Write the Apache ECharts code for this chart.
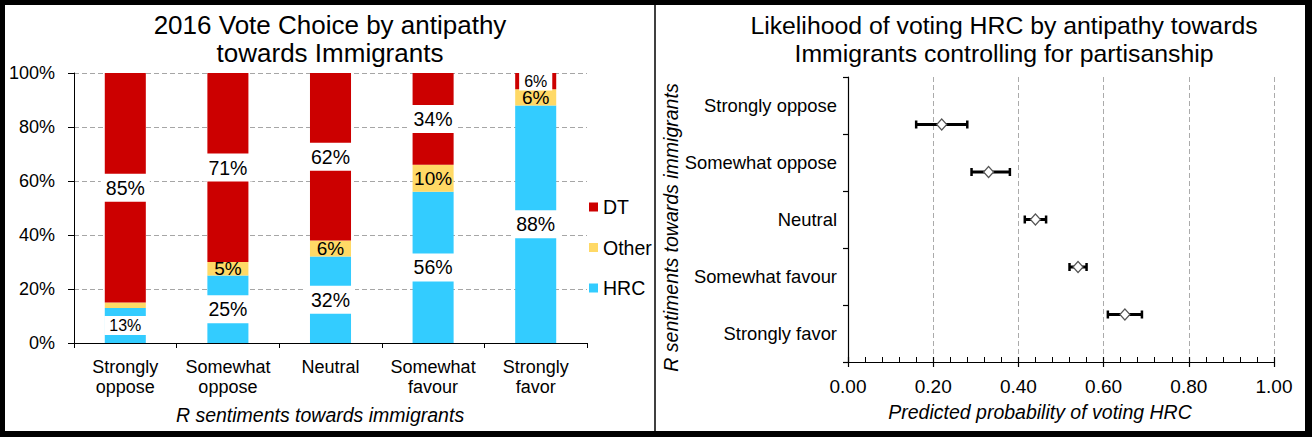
<!DOCTYPE html>
<html><head><meta charset="utf-8">
<script src="https://cdn.jsdelivr.net/npm/echarts@6/dist/echarts.min.js"></script>
<style>
html,body{margin:0;padding:0;background:#fff;overflow:hidden}
#wrap{position:relative;width:1312px;height:437px}
#chart{position:absolute;left:0;top:0;width:1312px;height:437px}
#frame{position:absolute;left:0;top:0;width:1312px;height:437px;box-sizing:border-box;border:5px solid #000;border-right-width:7px;border-bottom-width:6px;pointer-events:none}
#divider{position:absolute;left:654px;top:5px;width:2px;height:426px;background:#404040;pointer-events:none}
</style></head>
<body><div id="wrap"><div id="chart"></div><div id="frame"></div><div id="divider"></div></div>
<script>
// ---- data ----
const categories = ['Strongly oppose', 'Somewhat oppose', 'Neutral', 'Somewhat favour', 'Strongly favor'];
const hrcShare   = [13, 25, 32, 56, 88];
const otherShare = [2, 5, 6, 10, 6];
const dtShare    = [85, 71, 62, 34, 6];
const shareTicks = [0, 20, 40, 60, 80, 100];

const probEstimate = [0.22, 0.33, 0.44, 0.54, 0.65];
const probLow      = [0.16, 0.29, 0.415, 0.52, 0.61];
const probHigh     = [0.28, 0.38, 0.465, 0.56, 0.69];
const probTicks    = [0, 0.2, 0.4, 0.6, 0.8, 1.0];

// ---- styles ----
const FONT = '"Liberation Sans", Arial, Helvetica, sans-serif';
const C_DT = '#CC0000', C_OTHER = '#FFD966', C_HRC = '#33CCFF';

function boxedLabel(v) {
  const small = v < 15;
  return {
    show: true, position: 'inside', color: '#000', fontFamily: FONT,
    fontSize: small ? 16 : 19.5, lineHeight: small ? 15 : 20, backgroundColor: '#fff',
    padding: small ? [2, 5] : [4, 5],
    formatter: '{c}%'
  };
}
function plainLabel(v) {
  return { show: v >= 3, position: 'inside', color: '#000', fontFamily: FONT, fontSize: 19, lineHeight: 13, formatter: '{c}%' };
}

const n = categories.length;
const chart = echarts.init(document.getElementById('chart'), null, { renderer: 'svg' });

const option = {
  animation: false,
  backgroundColor: '#fff',
  textStyle: { fontFamily: FONT },
  graphic: [
    { type: 'text', x: 330, y: 39, style: { text: '2016 Vote Choice by antipathy\ntowards Immigrants', align: 'center', verticalAlign: 'middle', fontSize: 26, lineHeight: 28, fontFamily: FONT, fill: '#000' } },
    { type: 'text', x: 1004, y: 39, style: { text: 'Likelihood of voting HRC by antipathy towards\nImmigrants controlling for partisanship', align: 'center', verticalAlign: 'middle', fontSize: 24.8, lineHeight: 28, fontFamily: FONT, fill: '#000' } }
  ],
  legend: {
    data: ['DT', 'Other', 'HRC'], orient: 'vertical', left: 584, top: 192,
    itemWidth: 9, itemHeight: 9, itemGap: 20.5, itemTextGap: 5, selectedMode: false, icon: 'rect',
    textStyle: { fontSize: 19.5, lineHeight: 20, color: '#000', fontFamily: FONT }
  },
  grid: [
    { left: 74, right: 725, top: 73, bottom: 94 },
    { left: 848, right: 38, top: 77, bottom: 75 }
  ],
  xAxis: [
    {
      gridIndex: 0, type: 'category', data: categories,
      axisLine: { lineStyle: { color: '#000', width: 1 } },
      axisTick: { show: true, length: 5, lineStyle: { color: '#000' } },
      axisLabel: { interval: 0, formatter: v => v.replace(' ', '\n'), fontSize: 18, lineHeight: 20, color: '#000', margin: 14, fontFamily: FONT },
      name: 'R sentiments towards immigrants', nameLocation: 'middle', nameGap: 72,
      nameTextStyle: { fontSize: 19.5, fontStyle: 'italic', color: '#000', verticalAlign: 'middle', padding: [0, 21, 0, 0], fontFamily: FONT }
    },
    {
      gridIndex: 1, type: 'value', position: 'bottom', min: probTicks[0], max: probTicks[probTicks.length - 1], interval: 0.2,
      axisLine: { show: true, lineStyle: { color: '#000', width: 1.2 } },
      axisTick: { show: true, inside: true, length: 5, lineStyle: { color: '#000', width: 1.2 } },
      minorTick: { show: true, splitNumber: 5, length: 5, lineStyle: { color: '#000', width: 1 } },
      axisLabel: { formatter: v => v.toFixed(2), fontSize: 19, color: '#000', margin: 15, fontFamily: FONT },
      splitLine: { show: true, lineStyle: { color: '#ababab', type: [5, 3], width: 1 } },
      name: 'Predicted probability of voting HRC', nameLocation: 'middle', nameGap: 50,
      nameTextStyle: { fontSize: 19.5, fontStyle: 'italic', color: '#000', verticalAlign: 'middle', padding: [0, 42, 0, 0], fontFamily: FONT }
    },
    {
      gridIndex: 1, type: 'value', position: 'bottom', min: probTicks[0], max: probTicks[probTicks.length - 1], interval: 0.2,
      axisLine: { show: false },
      axisTick: { show: true, inside: false, length: 5, lineStyle: { color: '#000', width: 1.2 } },
      axisLabel: { show: false }, splitLine: { show: false }
    }
  ],
  yAxis: [
    {
      gridIndex: 0, type: 'value', min: shareTicks[0], max: shareTicks[shareTicks.length - 1], interval: 20,
      axisLine: { show: true, lineStyle: { color: '#000', width: 1 } },
      axisTick: { show: true, length: 6, lineStyle: { color: '#000' } },
      axisLabel: { formatter: '{value}%', fontSize: 18, color: '#000', margin: 19, fontFamily: FONT },
      splitLine: { show: true, lineStyle: { color: '#a6a6a6', type: [5, 3], width: 1 } }
    },
    {
      gridIndex: 1, type: 'category', data: categories, inverse: true,
      axisLine: { show: true, lineStyle: { color: '#000', width: 1.2 } },
      axisTick: { show: true, length: 5, lineStyle: { color: '#000', width: 1.2 } },
      axisLabel: { interval: 0, fontSize: 18.4, color: '#000', margin: 11, fontFamily: FONT },
      splitLine: { show: false },
      name: 'R sentiments towards immigrants', nameLocation: 'middle', nameGap: 173, nameRotate: 90,
      nameTextStyle: { fontSize: 19.5, fontStyle: 'italic', color: '#000', verticalAlign: 'middle', padding: [0, 16, 0, 0], fontFamily: FONT }
    },
    {
      gridIndex: 1, type: 'value', min: 0, max: n + 1, show: false
    }
  ],
  series: [
    {
      name: 'HRC', type: 'bar', stack: 'vote', xAxisIndex: 0, yAxisIndex: 0, barWidth: '40%',
      itemStyle: { color: C_HRC },
      data: hrcShare.map(v => ({ value: v, label: boxedLabel(v) }))
    },
    {
      name: 'Other', type: 'bar', stack: 'vote', xAxisIndex: 0, yAxisIndex: 0, barWidth: '40%',
      itemStyle: { color: C_OTHER },
      data: otherShare.map(v => ({ value: v, label: plainLabel(v) }))
    },
    {
      name: 'DT', type: 'bar', stack: 'vote', xAxisIndex: 0, yAxisIndex: 0, barWidth: '40%',
      itemStyle: { color: C_DT },
      data: dtShare.map(v => ({ value: v, label: boxedLabel(v) }))
    },
    {
      name: 'CI', type: 'custom', xAxisIndex: 1, yAxisIndex: 2,
      encode: { x: [0, 1], y: 2 },
      data: probLow.map((lo, i) => [lo, probHigh[i], n - i]),
      renderItem: function (params, api) {
        const a = api.coord([api.value(0), api.value(2)]);
        const b = api.coord([api.value(1), api.value(2)]);
        const h = 8;
        return {
          type: 'group', children: [
            { type: 'line', shape: { x1: a[0], y1: a[1], x2: b[0], y2: b[1] }, style: { stroke: '#000', lineWidth: 3 } },
            { type: 'line', shape: { x1: a[0], y1: a[1] - h / 2, x2: a[0], y2: a[1] + h / 2 }, style: { stroke: '#000', lineWidth: 2.5 } },
            { type: 'line', shape: { x1: b[0], y1: b[1] - h / 2, x2: b[0], y2: b[1] + h / 2 }, style: { stroke: '#000', lineWidth: 2.5 } }
          ]
        };
      },
      z: 3
    },
    {
      name: 'Estimate', type: 'scatter', xAxisIndex: 1, yAxisIndex: 2,
      symbol: 'diamond', symbolSize: [10, 11],
      itemStyle: { color: '#fff', borderColor: '#555', borderWidth: 1.2, opacity: 1 },
      data: probEstimate.map((v, i) => [v, n - i]),
      z: 4
    }
  ]
};
chart.setOption(option);
</script>
</body></html>
